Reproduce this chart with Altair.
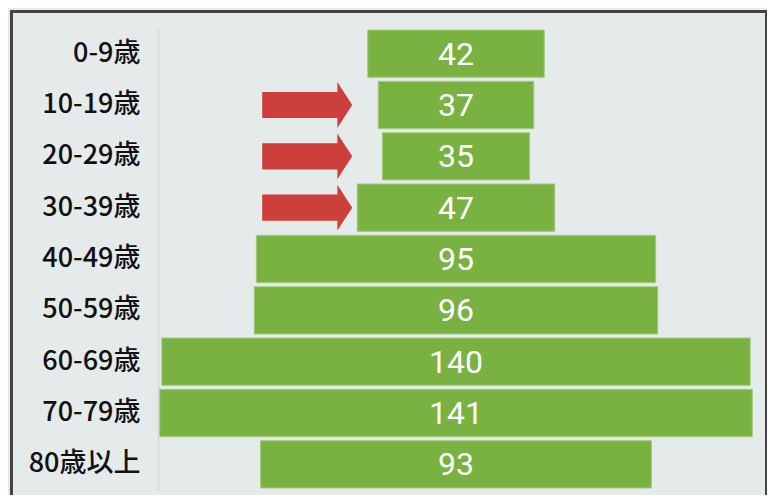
import altair as alt
import pandas as pd

ages = ["0-9歳", "10-19歳", "20-29歳", "30-39歳", "40-49歳",
        "50-59歳", "60-69歳", "70-79歳", "80歳以上"]
counts = [42, 37, 35, 47, 95, 96, 140, 141, 93]

arrow_rows = ["10-19歳", "20-29歳", "30-39歳"]
arrow_x = [-35.4, -35.4, -35.4]

df = pd.DataFrame({"age": ages, "count": counts})
df["lo"] = -df["count"] / 2
df["hi"] = df["count"] / 2
arrows = pd.DataFrame({"age": arrow_rows, "ax": arrow_x})

xs = alt.Scale(domain=[-70.9, 70.9], nice=False, zero=False)
ys = alt.Scale(domain=ages, paddingInner=0.078, paddingOuter=0.039)

yenc = alt.Y("age:N", sort=ages, scale=ys, title=None,
             axis=alt.Axis(ticks=False, tickSize=0, labelPadding=18,
                           labelFont="Noto Sans CJK JP", labelFontSize=27,
                           labelFontWeight=500, labelColor="#111111",
                           labelAlign="right", domainColor="#dcdcdf",
                           domainWidth=2, grid=False))

border = alt.Chart(df).mark_rect(fillOpacity=0, stroke="#454545", strokeWidth=2).encode(
    x=alt.value(-146.5), x2=alt.value(608), y=alt.value(-16.5), y2=alt.value(700)
)

bars = alt.Chart(df).mark_bar(color="#7ab242", stroke="#a3cc7e", strokeWidth=1).encode(
    x=alt.X("lo:Q", scale=xs, axis=None),
    x2="hi:Q",
    y=yenc,
)

labels = alt.Chart(df).mark_text(
    color="white", font="Roboto",
    fontSize=32, baseline="middle", align="center", dy=1
).encode(
    x=alt.datum(0, scale=xs),
    y=alt.Y("age:N", sort=ages, scale=ys),
    text="count:Q",
)

arrow_path = "M-1,-0.29L0.67,-0.29L0.67,-0.51L1,0L0.67,0.51L0.67,0.29L-1,0.29Z"
arrow_marks = alt.Chart(arrows).mark_point(
    shape=arrow_path, filled=True, fill="#cd3f3a", opacity=1, size=8100, strokeWidth=0
).encode(
    x=alt.X("ax:Q", scale=xs),
    y=alt.Y("age:N", sort=ages, scale=ys),
)

chart = alt.layer(border, bars, labels, arrow_marks).properties(
    width=596, height=462,
    autosize=alt.AutoSizeParams(type="none"),
    padding={"left": 150, "top": 20, "right": 13, "bottom": 5},
    background="#e5eaea",
).configure_view(stroke=None)

chart.save("out.html", embed_options={"renderer": "svg", "actions": False})
